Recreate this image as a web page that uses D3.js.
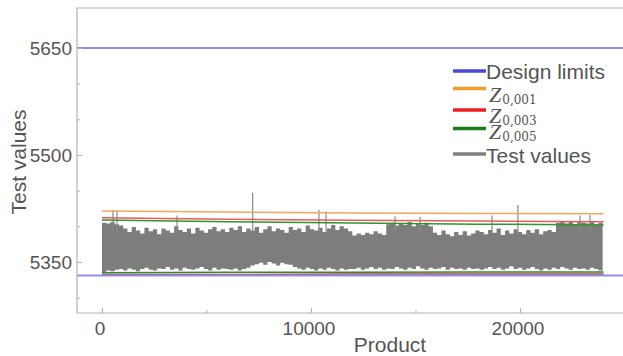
<!DOCTYPE html>
<html>
<head>
<meta charset="utf-8">
<script src="https://cdn.jsdelivr.net/npm/d3@7"></script>
<style>
  body { margin: 0; background: #fff; }
  svg { display: block; }
</style>
</head>
<body>
<svg id="chart"></svg>
<script>
/*************** data *****************/
var designLimits = [5331, 5650];          // lower, upper
var binSize = 203;                        // products per bin of the test series
// highest and lowest test value per bin
var testHigh = [5405, 5404, 5406, 5403, 5401,
  5397, 5392, 5399, 5394, 5390, 5398, 5393, 5396, 5389, 5397, 5394, 5391, 5400, 5395, 5392, 5397, 5390, 5398, 5394, 5391, 5396, 5399, 5393, 5396, 5392,
  5398, 5395, 5400, 5392, 5397, 5394, 5399, 5391, 5396, 5400, 5393, 5397, 5395, 5391, 5399, 5395, 5397, 5392, 5401, 5396, 5394, 5398, 5392, 5397, 5402, 5395, 5400, 5397, 5393,
  5387, 5390, 5388, 5391, 5389, 5393, 5390, 5388,
  5403, 5405, 5401, 5404, 5402, 5406, 5400, 5404, 5402, 5405, 5400,
  5391, 5388, 5394, 5389, 5386, 5392, 5388, 5393, 5387, 5390, 5394,
  5392, 5389, 5395, 5391, 5397, 5388, 5394, 5390, 5396, 5392, 5389, 5395, 5391, 5396, 5389, 5393, 5395, 5392,
  5405, 5407, 5404, 5406, 5403, 5407, 5405, 5404, 5406, 5403, 5405];
var testLow = [5336, 5338, 5337, 5339, 5340, 5338, 5341, 5339, 5337, 5340, 5342, 5339, 5338, 5341, 5340, 5343, 5339, 5341, 5338, 5342, 5340, 5339, 5341, 5343, 5340, 5338, 5342, 5339, 5341, 5340,
  5339, 5341, 5338, 5340, 5342, 5345, 5347, 5349, 5346, 5350, 5348, 5345, 5349, 5347, 5346, 5343, 5341, 5339, 5342, 5340, 5338, 5341, 5339, 5342, 5340, 5338, 5341, 5339, 5340,
  5340, 5342, 5339, 5341, 5343, 5340, 5342, 5339, 5341, 5340, 5343, 5341, 5339, 5342, 5340, 5344, 5341, 5339, 5342, 5340, 5341, 5343, 5339, 5342, 5340, 5341, 5339, 5342, 5340, 5341,
  5339, 5341, 5343, 5340, 5342, 5339, 5341, 5344, 5340, 5342, 5339, 5341, 5343, 5340, 5338, 5341, 5339, 5342, 5340, 5343, 5341, 5339, 5342, 5340, 5341, 5339, 5342, 5340, 5338];
// single tall readings poking out of the band
var spikeProduct = [526, 718, 3590, 7210, 10380, 10720, 14020, 15220, 18660, 19900, 22870, 23350];
var spikeValue   = [5423, 5422, 5415, 5447, 5423, 5421, 5414, 5413, 5415, 5430, 5415, 5416];

// Z limits, given at these products
var zProduct = [0, 6000, 12000, 18000, 24000];
var z001Upper = [5421.5, 5420, 5418.5, 5418, 5417.5];
var z003Upper = [5412, 5410, 5408.5, 5407.5, 5406.5];
var z005Upper = [5409, 5406.5, 5404.5, 5403, 5402];
var z001Lower = [5331.5, 5331.5, 5331.5, 5331.5, 5331.5];
var z003Lower = [5332.5, 5332.5, 5333, 5333, 5333];
var z005Lower = [5335, 5335.5, 5335.5, 5336, 5336];

var xTicks = [0, 10000, 20000];
var xMinorTicks = [5000, 15000];
var yTicks = [5350, 5500, 5650];
var yMinorTicks = [5300, 5400, 5450, 5550, 5600];

var legendNames = ["Design limits", "0,001", "0,003", "0,005", "Test values"];
/*************** end data *****************/

(function draw() {
	var width = 623, height = 356,
		pLeft = 77, pTop = 8, pRight = 626, pBottom = 313,
		axisColor = "#b3b3b3",
		textColor = "#555",
		font = "'Liberation Sans', Arial, sans-serif";

	var svg = d3.select("#chart").attr("width", width).attr("height", height);

	var x = d3.scaleLinear().domain([-1196, 25072]).range([pLeft, pRight]);
	var y = d3.scaleLinear().domain([5278.5, 5706]).range([pBottom, pTop]);

	var plot = svg.append("g");

	/*************** test values *****************/
	var bins = testHigh.map(function(h, i) { return {p: i * binSize, hi: h, lo: testLow[i]}; });
	bins.push({p: bins.length * binSize, hi: testHigh[testHigh.length - 1], lo: testLow[testLow.length - 1]});

	var band = d3.area()
		.curve(d3.curveStepAfter)
		.x(function(d) { return x(d.p); })
		.y0(function(d) { return y(d.lo); })
		.y1(function(d) { return y(d.hi); });

	plot.append("path")
		.datum(bins)
		.attr("d", band)
		.attr("fill", "#7d7d7d");

	plot.append("g")
		.selectAll("line")
		.data(spikeProduct)
		.enter().append("line")
			.attr("x1", function(d) { return x(d); })
			.attr("x2", function(d) { return x(d); })
			.attr("y1", function(d, i) { return y(spikeValue[i]); })
			.attr("y2", y(5390))
			.attr("stroke", "#8a8a8a")
			.attr("stroke-width", 1.2);

	/*************** Z limit lines *****************/
	var zLines = [
		{v: z001Lower, c: "#e0a050"}, {v: z003Lower, c: "#c83a3a"}, {v: z005Lower, c: "#2e8b2e"},
		{v: z001Upper, c: "#f4a65a"}, {v: z003Upper, c: "#ea5a5a"}, {v: z005Upper, c: "#2f962f"}
	];
	var zLine = d3.line()
		.x(function(d, i) { return x(zProduct[i]); })
		.y(function(d) { return y(d); });

	plot.append("g")
		.selectAll("path")
		.data(zLines)
		.enter().append("path")
			.attr("d", function(d) { return zLine(d.v); })
			.attr("fill", "none")
			.attr("stroke", function(d) { return d.c; })
			.attr("stroke-width", 1.5);

	/*************** design limits *****************/
	plot.append("g")
		.selectAll("line")
		.data(designLimits)
		.enter().append("line")
			.attr("x1", pLeft).attr("x2", pRight)
			.attr("y1", function(d) { return y(d); })
			.attr("y2", function(d) { return y(d); })
			.attr("stroke", "#8f8ff2")
			.attr("stroke-width", 2);

	/*************** frame and axes *****************/
	svg.append("path")
		.attr("d", "M" + pRight + "," + pTop + "H" + pLeft + "V" + pBottom + "H" + pRight)
		.attr("fill", "none")
		.attr("stroke", axisColor)
		.attr("stroke-width", 1.2);

	svg.append("g")
		.attr("transform", "translate(" + pLeft + ",0)")
		.call(d3.axisRight(y).tickValues(yTicks).tickSize(5).tickFormat(""));
	svg.append("g")
		.attr("transform", "translate(" + pLeft + ",0)")
		.call(d3.axisRight(y).tickValues(yMinorTicks).tickSize(3).tickFormat(""));
	svg.append("g")
		.attr("transform", "translate(0," + pBottom + ")")
		.call(d3.axisTop(x).tickValues(xTicks).tickSize(5).tickFormat(""));
	svg.append("g")
		.attr("transform", "translate(0," + pBottom + ")")
		.call(d3.axisTop(x).tickValues(xMinorTicks).tickSize(3).tickFormat(""));
	svg.selectAll(".domain").remove();
	svg.selectAll(".tick line").attr("stroke", axisColor);

	svg.append("g")
		.selectAll("text")
		.data(yTicks)
		.enter().append("text")
			.attr("x", pLeft - 5)
			.attr("y", function(d) { return y(d); })
			.attr("dy", "0.35em")
			.attr("text-anchor", "end")
			.attr("font-family", font)
			.attr("font-size", 19)
			.attr("fill", textColor)
			.text(function(d) { return d; });

	svg.append("g")
		.selectAll("text")
		.data(xTicks)
		.enter().append("text")
			.attr("x", function(d) { return x(d) - 2; })
			.attr("y", 335)
			.attr("text-anchor", "middle")
			.attr("font-family", font)
			.attr("font-size", 19)
			.attr("fill", textColor)
			.text(function(d) { return d; });

	svg.append("text")
		.attr("x", 390).attr("y", 352)
		.attr("text-anchor", "middle")
		.attr("font-family", font).attr("font-size", 21)
		.attr("fill", textColor)
		.text("Product");

	svg.append("text")
		.attr("transform", "translate(26,162) rotate(-90)")
		.attr("text-anchor", "middle")
		.attr("font-family", font).attr("font-size", 21)
		.attr("fill", textColor)
		.text("Test values");

	/*************** legend *****************/
	var legendRows = [
		{name: legendNames[0], c: "#4747e0", ly: 71, ty: 78.5, z: false},
		{name: legendNames[1], c: "#f39a2c", ly: 88.5, ty: 101.5, z: true},
		{name: legendNames[2], c: "#ee1e1e", ly: 110, ty: 123, z: true},
		{name: legendNames[3], c: "#1a7d1a", ly: 128.5, ty: 138.5, z: true},
		{name: legendNames[4], c: "#808080", ly: 154, ty: 163, z: false}
	];

	var legend = svg.append("g").selectAll("g")
		.data(legendRows)
		.enter().append("g");

	legend.append("line")
		.attr("x1", 453).attr("x2", 486)
		.attr("y1", function(d) { return d.ly; })
		.attr("y2", function(d) { return d.ly; })
		.attr("stroke", function(d) { return d.c; })
		.attr("stroke-width", 3.5);

	legend.filter(function(d) { return !d.z; })
		.append("text")
			.attr("x", 486).attr("y", function(d) { return d.ty; })
			.attr("font-family", font).attr("font-size", 21)
			.attr("fill", textColor)
			.text(function(d) { return d.name; });

	var zText = legend.filter(function(d) { return d.z; })
		.append("text")
			.attr("x", 489).attr("y", function(d) { return d.ty; })
			.attr("fill", textColor);
	zText.append("tspan")
		.attr("font-family", "'Liberation Serif', serif")
		.attr("font-style", "italic")
		.attr("font-size", 22)
		.text("Z");
	zText.append("tspan")
		.attr("font-family", "'DejaVu Serif', serif")
		.attr("font-size", 12)
		.attr("dx", 1)
		.attr("dy", 2)
		.text(function(d) { return d.name; });
})();
</script>
</body>
</html>
